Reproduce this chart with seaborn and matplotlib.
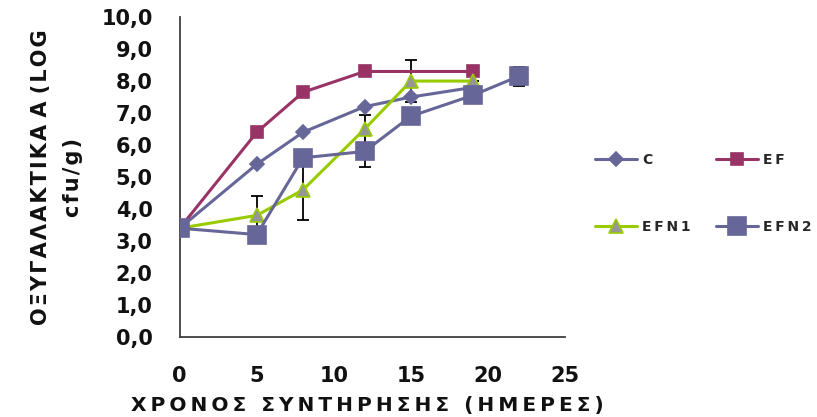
import matplotlib
matplotlib.use("Agg")
import matplotlib.pyplot as plt
import seaborn as sns
import pandas as pd
from matplotlib.ticker import FuncFormatter

# data
x_C = [0, 5, 8, 12, 15, 19]
y_C = [3.4, 5.4, 6.4, 7.2, 7.5, 7.8]
x_EF = [0, 5, 8, 12, 19]
y_EF = [3.4, 6.4, 7.65, 8.3, 8.3]
x_EFN1 = [0, 5, 8, 12, 15, 19]
y_EFN1 = [3.4, 3.8, 4.6, 6.5, 8.0, 8.0]
err_EFN1 = [0.0, 0.6, 0.95, 0.43, 0.65, 0.0]
x_EFN2 = [0, 5, 8, 12, 15, 19, 22]
y_EFN2 = [3.4, 3.2, 5.6, 5.8, 6.9, 7.55, 8.15]
err_EFN2 = [0.0, 0.0, 0.0, 0.5, 0.0, 0.0, 0.3]
labels = ["C", "EF", "EFN1", "EFN2"]
y_ticks = [0, 1, 2, 3, 4, 5, 6, 7, 8, 9, 10]
x_ticks = [0, 5, 10, 15, 20, 25]

sns.set_theme(style="white")
plt.rcParams['font.family'] = ['DejaVu Sans']
plt.rcParams['font.weight'] = 'bold'

def spaced(s, gap="\u200a", wgap=" "):
    words = s.split(" ")
    return wgap.join(gap.join(list(w)) for w in words)

fig = plt.figure(figsize=(8.17, 4.17), dpi=100)
ax = fig.add_axes([0.220, 0.192, 0.4715, 0.767])

styles = {
    "C": dict(color="#666699", marker="D", markersize=7, mfc="#666699", mec="#666699"),
    "EF": dict(color="#993366", marker="s", markersize=8, mfc="#993366", mec="#993366"),
    "EFN1": dict(color="#99CC00", marker="^", markersize=10, mfc="#969696", mec="#99CC00"),
    "EFN2": dict(color="#666699", marker="s", markersize=13, mfc="#666699", mec="#666699"),
}
series = {
    "C": (x_C, y_C),
    "EF": (x_EF, y_EF),
    "EFN1": (x_EFN1, y_EFN1),
    "EFN2": (x_EFN2, y_EFN2),
}

handles = {}
for name in labels:
    xs, ys = series[name]
    df = pd.DataFrame({"x": xs, "y": ys})
    st = styles[name]
    sns.lineplot(data=df, x="x", y="y", ax=ax, color=st["color"], linewidth=2.2,
                 marker=st["marker"], markersize=st["markersize"],
                 markerfacecolor=st["mfc"], markeredgecolor=st["mec"],
                 markeredgewidth=1.2, zorder=3)
    handles[name] = ax.lines[-1]
    if name == "EFN1":
        ax.errorbar(x_EFN1, y_EFN1, yerr=err_EFN1, fmt="none", ecolor="black",
                    elinewidth=1.3, capsize=4, capthick=1.3, zorder=2)
    if name == "EFN2":
        ax.errorbar(x_EFN2, y_EFN2, yerr=err_EFN2, fmt="none", ecolor="black",
                    elinewidth=1.3, capsize=4, capthick=1.3, zorder=2)

ax.set_xlim(0, 25)
ax.set_ylim(0, 10)
ax.set_xticks(x_ticks)
ax.set_yticks(y_ticks)
ax.yaxis.set_major_formatter(FuncFormatter(lambda v, p: f"{v:.1f}".replace(".", ",")))
ax.tick_params(axis="both", length=0, labelsize=15, labelcolor="#111111")
ax.tick_params(axis="y", pad=19.5)
ax.tick_params(axis="x", pad=21)
for lab in ax.get_xticklabels() + ax.get_yticklabels():
    lab.set_fontweight("bold")
for s in ["top", "right"]:
    ax.spines[s].set_visible(False)
for s in ["left", "bottom"]:
    ax.spines[s].set_color("#404040")
    ax.spines[s].set_linewidth(1.3)

ax.set_xlabel(spaced("ΧΡΟΝΟΣ ΣΥΝΤΗΡΗΣΗΣ (ΗΜΕΡΕΣ)", gap="\u2009", wgap=" \u2009\u2009"),
              fontsize=14.5, fontweight="bold", color="#111111")
ax.xaxis.set_label_coords(0.486, -0.185)
ax.set_ylabel(spaced("ΟΞΥΓΑΛΑΚΤΙΚΑ Α (LOG") + "\n" + spaced("cfu/g)"),
              fontsize=15, fontweight="bold", linespacing=1.75, color="#111111")
ax.yaxis.set_label_coords(-0.252, 0.5)

order = ["C", "EFN1", "EF", "EFN2"]
leg = fig.legend([handles[n] for n in order], [spaced(n, gap="\u2009") for n in order],
                 ncol=2, frameon=False,
                 loc="upper left", bbox_to_anchor=(0.713, 0.663),
                 prop=dict(size=10, weight="bold"),
                 handlelength=3.0, handletextpad=0.4, columnspacing=1.8,
                 labelspacing=3.8)

fig.savefig("out.png", dpi=100)
